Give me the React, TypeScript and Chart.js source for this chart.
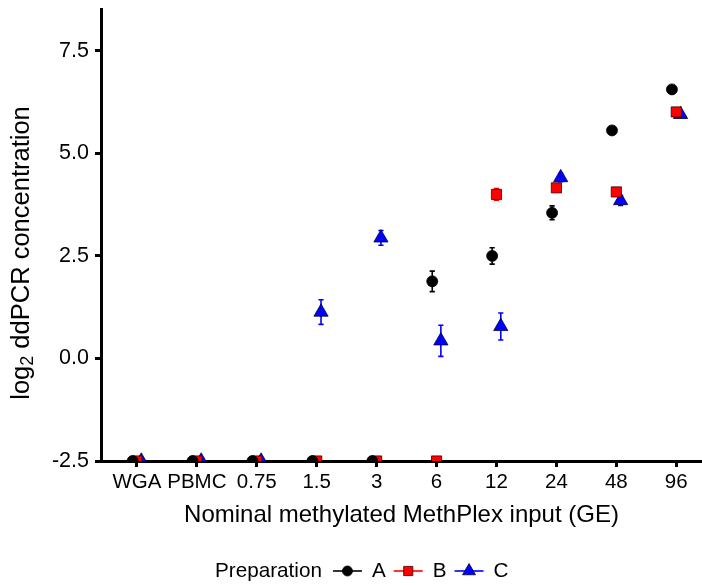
import React, { useEffect, useRef } from 'react';
import { Chart, registerables } from 'chart.js';

Chart.register(...registerables);

const categories = ['WGA', 'PBMC', '0.75', '1.5', '3', '6', '12', '24', '48', '96'];
const seriesNames = ['A', 'B', 'C'];
const seriesA = [-2.5, -2.5, -2.5, -2.5, -2.5, 1.88, 2.5, 3.55, 5.56, 6.56];
const seriesB = [-2.5, -2.5, -2.5, -2.5, -2.5, -2.5, 4.0, 4.16, 4.06, 6.01];
const seriesC = [-2.5, -2.5, -2.5, 1.13, 2.94, 0.43, 0.78, 4.41, 3.85, 5.95];
const errA = [0, 0, 0, 0, 0, 0.25, 0.2, 0.17, 0.05, 0.05];
const errB = [0, 0, 0, 0, 0, 0, 0.14, 0.08, 0.08, 0.05];
const errC = [0, 0, 0, 0.3, 0.18, 0.38, 0.33, 0.1, 0.12, 0.05];
const yTicks = [-2.5, 0, 2.5, 5, 7.5];

const FONT = "'Liberation Sans', Arial, Helvetica, sans-serif";

function drawShape(ctx: CanvasRenderingContext2D, style: string, x: number, y: number, r: number) {
  ctx.beginPath();
  if (style === 'circle') {
    ctx.arc(x, y, r, 0, Math.PI * 2);
  } else if (style === 'rect') {
    const s = Math.SQRT1_2 * r;
    ctx.rect(x - s, y - s, 2 * s, 2 * s);
  } else {
    let rad = 0;
    ctx.moveTo(x + Math.sin(rad) * r, y - Math.cos(rad) * r);
    rad += (2 * Math.PI) / 3;
    ctx.lineTo(x + Math.sin(rad) * r, y - Math.cos(rad) * r);
    rad += (2 * Math.PI) / 3;
    ctx.lineTo(x + Math.sin(rad) * r, y - Math.cos(rad) * r);
    ctx.closePath();
  }
}

export default function App() {
  const ref = useRef<HTMLCanvasElement>(null);

  useEffect(() => {
    const canvas = ref.current!;
    const series = [
      { label: seriesNames[0], values: seriesA, err: errA, color: '#000000', border: '#000000', style: 'circle', radius: 5.5, dodge: -0.072 },
      { label: seriesNames[1], values: seriesB, err: errB, color: '#FF0000', border: '#3a0000', style: 'rect', radius: 7.2, dodge: 0 },
      { label: seriesNames[2], values: seriesC, err: errC, color: '#0000FF', border: '#000033', style: 'triangle', radius: 8.2, dodge: 0.072 },
    ];

    const forceArea = {
      id: 'forceArea',
      afterLayout(chart: any) {
        const right = chart.width;
        chart.chartArea.right = right;
        chart.chartArea.width = right - chart.chartArea.left;
        const x = chart.scales.x;
        x.right = right;
        x.width = right - x.left;
        x.configure();
      },
    };

    const errorBars = {
      id: 'errorBars',
      beforeDatasetsDraw(chart: any) {
        const { ctx, chartArea, scales } = chart;
        const x = scales.x, y = scales.y;
        ctx.save();
        ctx.beginPath();
        ctx.rect(chartArea.left, chartArea.top, chartArea.right - chartArea.left, chartArea.bottom - chartArea.top);
        ctx.clip();
        series.forEach((s) => {
          ctx.strokeStyle = s.color;
          ctx.lineWidth = 1.6;
          s.values.forEach((v, i) => {
            const e = s.err[i];
            if (!e) return;
            const px = x.getPixelForValue(i + s.dodge);
            const y1 = y.getPixelForValue(v + e);
            const y2 = y.getPixelForValue(v - e);
            ctx.beginPath();
            ctx.moveTo(px, y1);
            ctx.lineTo(px, y2);
            ctx.moveTo(px - 2.6, y1);
            ctx.lineTo(px + 2.6, y1);
            ctx.moveTo(px - 2.6, y2);
            ctx.lineTo(px + 2.6, y2);
            ctx.stroke();
          });
        });
        ctx.restore();
      },
    };

    const extras = {
      id: 'extras',
      afterDraw(chart: any) {
        const ctx: CanvasRenderingContext2D = chart.ctx;
        // y-axis title with subscript
        ctx.save();
        ctx.translate(22, 253);
        ctx.rotate(-Math.PI / 2);
        ctx.fillStyle = '#000';
        ctx.textBaseline = 'middle';
        ctx.textAlign = 'left';
        const big = `25.5px ${FONT}`;
        const small = `18px ${FONT}`;
        ctx.font = big;
        const w1 = ctx.measureText('log').width;
        const w3 = ctx.measureText(' ddPCR concentration').width;
        ctx.font = small;
        const w2 = ctx.measureText('2').width;
        const x0 = -(w1 + w2 + w3) / 2;
        ctx.font = big;
        ctx.fillText('log', x0, 0);
        ctx.font = small;
        ctx.fillText('2', x0 + w1, 6.5);
        ctx.font = big;
        ctx.fillText(' ddPCR concentration', x0 + w1 + w2, 0);
        ctx.restore();

        // legend
        ctx.save();
        const ly = 571;
        ctx.font = `20.7px ${FONT}`;
        ctx.fillStyle = '#000';
        ctx.textBaseline = 'middle';
        ctx.textAlign = 'left';
        let cx = 215;
        ctx.fillText('Preparation', cx, ly);
        cx += ctx.measureText('Preparation').width + 11;
        series.forEach((s) => {
          ctx.strokeStyle = s.color;
          ctx.lineWidth = 1.6;
          ctx.beginPath();
          ctx.moveTo(cx, ly);
          ctx.lineTo(cx + 29, ly);
          ctx.stroke();
          ctx.fillStyle = s.color;
          ctx.strokeStyle = s.border;
          ctx.lineWidth = 0.8;
          drawShape(ctx, s.style, cx + 14.5, ly, s.style === 'triangle' ? 7.5 : s.style === 'rect' ? 6.5 : 5);
          ctx.fill();
          ctx.stroke();
          cx += 39;
          ctx.fillStyle = '#000';
          ctx.fillText(s.label, cx, ly);
          cx += ctx.measureText(s.label).width + 8;
        });
        ctx.restore();
      },
    };

    const chart = new Chart(canvas, {
      type: 'scatter',
      data: {
        datasets: series.map((s) => ({
          label: s.label,
          data: s.values.map((v, i) => ({ x: i + s.dodge, y: v })),
          backgroundColor: s.color,
          borderColor: s.border,
          borderWidth: 0.8,
          pointStyle: s.style as any,
          pointRadius: s.radius,
          pointHoverRadius: s.radius,
          showLine: false,
          clip: 0 as any,
        })),
      },
      options: {
        responsive: false,
        animation: false,
        events: [],
        layout: { padding: { top: 7, left: 0, right: 0, bottom: 0 } },
        plugins: {
          legend: { display: false },
          tooltip: { enabled: false },
        },
        scales: {
          x: {
            type: 'linear',
            min: -0.6,
            max: 9.43,
            z: 1,
            afterFit(s: any) {
              s.height = 124;
              s.paddingLeft = 0;
              s.paddingRight = 0;
              s.paddingTop = 0;
              s.paddingBottom = 0;
            },
            afterBuildTicks(s: any) {
              s.ticks = categories.map((_, i) => ({ value: i }));
            },
            ticks: {
              callback: (v: any) => categories[Math.round(Number(v))] ?? '',
              font: { size: 20.5, family: FONT },
              color: '#000',
              padding: 3,
              autoSkip: false,
              maxRotation: 0,
              minRotation: 0,
            },
            grid: { drawOnChartArea: false, drawTicks: true, tickLength: 6, lineWidth: 3, color: '#000' },
            border: { display: true, width: 3, color: '#000' },
            title: {
              display: true,
              text: 'Nominal methylated MethPlex input (GE)',
              font: { size: 24, family: FONT },
              color: '#000',
              padding: { top: 0, bottom: 55.6 },
            },
          },
          y: {
            type: 'linear',
            min: -2.5,
            max: 8.52,
            z: 1,
            afterFit(s: any) {
              s.width = 101;
              s.paddingLeft = 0;
              s.paddingRight = 0;
              s.paddingTop = 0;
              s.paddingBottom = 0;
            },
            afterBuildTicks(s: any) {
              s.ticks = yTicks.map((v) => ({ value: v }));
            },
            ticks: {
              callback: (v: any) => Number(v).toFixed(1),
              font: { size: 21.5, family: FONT },
              color: '#000',
              padding: 6,
            },
            grid: { drawOnChartArea: false, drawTicks: true, tickLength: 6, lineWidth: 3, color: '#000' },
            border: { display: true, width: 3, color: '#000' },
          },
        },
      },
      plugins: [forceArea, errorBars, extras],
    });

    return () => chart.destroy();
  }, []);

  return (
    <div style={{ position: 'absolute', left: 0, top: 0, width: 702, height: 585, background: '#fff' }}>
      <canvas ref={ref} width={702} height={585} style={{ display: 'block' }} />
    </div>
  );
}
